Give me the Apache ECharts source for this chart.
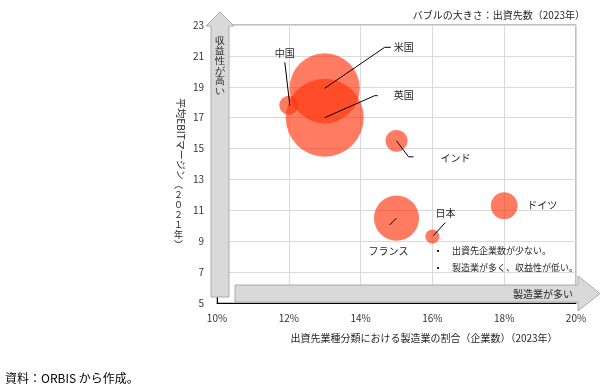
<!DOCTYPE html>
<html><head><meta charset="utf-8">
<script src="https://cdn.jsdelivr.net/npm/echarts@6/dist/echarts.min.js"></script>
<style>html,body{margin:0;padding:0;background:#fff}#c{width:608px;height:392px}</style>
</head><body><div id="c"></div>
<script>
const countries = ['中国', '米国', '英国', 'インド', 'フランス', '日本', 'ドイツ'];
const manufShare = [12.0, 13.0, 13.0, 15.0, 15.0, 16.0, 18.0];   // % (x)
const ebitMargin = [17.8, 18.9, 17.0, 15.5, 10.5, 9.3, 11.3];     // % (y)
const investCount = [90, 1230, 1520, 120, 510, 50, 180];          // bubble size
const xTicks = [10, 12, 14, 16, 18, 20];
const yTicks = [5, 7, 9, 11, 13, 15, 17, 19, 21, 23];

const FONT = '"Noto Sans CJK JP", "Noto Sans", sans-serif';
// pixel offsets of leader lines / labels relative to the bubble centre
const annot = {
  '中国':   {line: [[1, 0], [-4, -43]], text: [-4, -52], align: 'center'},
  '米国':   {line: [[0, 0], [60, -41], [66, -41]], text: [69, -41], align: 'left'},
  '英国':   {line: [[0, 0], [50, -22], [53, -22]], text: [69, -22], align: 'left'},
  'インド': {line: [[0, 0], [12, 16], [17, 16]], text: [44, 17], align: 'left'},
  'フランス': {line: [[-7, 7], [0, 0]], text: [-8, 33], align: 'center'},
  '日本':   {line: [[1, -1], [13, -14]], text: [13, -23], align: 'center'},
  'ドイツ': {line: null, text: [23, 0], align: 'left'}
};

const pts = countries.map((c, i) => [manufShare[i], ebitMargin[i], investCount[i], c]);

const chart = echarts.init(document.getElementById('c'), null, {renderer: 'canvas'});
const arrowFill = '#D9D9D9', arrowStroke = '#ABABAB';
chart.setOption({
  animation: false,
  textStyle: {fontFamily: FONT},
  grid: {left: 217, right: 32, top: 25, bottom: 89, show: true, borderColor: '#7F7F7F', borderWidth: 1},
  xAxis: {
    type: 'value', min: xTicks[0], max: xTicks[xTicks.length - 1], interval: 2,
    axisLine: {show: true, lineStyle: {color: '#000', width: 1}},
    axisTick: {show: false},
    axisLabel: {formatter: '{value}%', fontSize: 10, color: '#333', margin: 10, fontFamily: FONT},
    splitLine: {show: true, lineStyle: {color: '#D9D9D9'}},
    name: '出資先業種分類における製造業の割合（企業数）（2023年）',
    nameLocation: 'middle', nameGap: 30,
    nameTextStyle: {fontSize: 10, color: '#262626', fontFamily: FONT, padding: [0, 0, 0, 55]}
  },
  yAxis: {
    type: 'value', min: yTicks[0], max: yTicks[yTicks.length - 1], interval: 2,
    axisLine: {show: true, lineStyle: {color: '#000', width: 1}},
    axisTick: {show: false},
    axisLabel: {fontSize: 10, color: '#333', margin: 13, fontFamily: FONT},
    splitLine: {show: true, lineStyle: {color: '#D9D9D9'}}
  },
  graphic: [
    {type: 'polygon', z: 10, shape: {points: [[211, 297], [211, 26], [206, 26], [220, 12], [234, 26], [229, 26], [229, 297]]},
      style: {fill: arrowFill, stroke: arrowStroke, lineWidth: 1}},
    {type: 'text', z: 11, left: 215, top: 36,
      style: {text: '収\n益\n性\nが\n高\nい', fontSize: 10, lineHeight: 10, fill: '#262626', font: '10px ' + FONT}},
    {type: 'polygon', z: 10, shape: {points: [[235, 285], [578, 285], [578, 276], [600, 293.5], [578, 311], [578, 302], [235, 302]]},
      style: {fill: arrowFill, stroke: arrowStroke, lineWidth: 1}},
    {type: 'text', z: 11, x: 573, y: 294,
      style: {text: '製造業が多い', align: 'right', verticalAlign: 'middle', fill: '#262626', font: '10px ' + FONT}},
    {type: 'text', z: 11, x: 181, y: 139, rotation: -Math.PI / 2,
      style: {text: '平均EBITマージン', align: 'center', verticalAlign: 'middle', fill: '#262626', font: '10px ' + FONT}},
    {type: 'text', z: 11, x: 178.5, y: 180,
      style: {text: '︵\n２\n０\n２\n１\n年\n︶', align: 'center', verticalAlign: 'top', lineHeight: 10, fill: '#262626', font: '9px ' + FONT}},
    {type: 'text', z: 11, x: 585, y: 15,
      style: {text: 'バブルの大きさ：出資先数（2023年）', align: 'right', verticalAlign: 'middle', fill: '#262626', font: '10px ' + FONT}},
    {type: 'rect', z: 11, shape: {x: 437, y: 250, width: 2, height: 2}, style: {fill: '#262626'}},
    {type: 'rect', z: 11, shape: {x: 437, y: 267, width: 2, height: 2}, style: {fill: '#262626'}},
    {type: 'text', z: 11, x: 452, y: 251,
      style: {text: '出資先企業数が少ない。', align: 'left', verticalAlign: 'middle', fill: '#262626', font: '9px ' + FONT}},
    {type: 'text', z: 11, x: 452, y: 268,
      style: {text: '製造業が多く、収益性が低い。', align: 'left', verticalAlign: 'middle', fill: '#262626', font: '9px ' + FONT}},
    {type: 'text', z: 11, x: 5, y: 378,
      style: {text: '資料：ORBIS から作成。', align: 'left', verticalAlign: 'middle', fill: '#000', font: '12px ' + FONT}}
  ],
  series: [
    {
      type: 'scatter',
      data: pts,
      symbolSize: d => 2 * Math.sqrt(d[2]),
      itemStyle: {color: 'rgba(255,50,10,0.8)'},
      z: 3
    },
    {
      type: 'custom',
      data: pts,
      z: 5,
      renderItem: function (params, api) {
        const name = countries[params.dataIndex];
        const a = annot[name];
        const c = api.coord([api.value(0), api.value(1)]);
        const children = [];
        if (a.line) {
          children.push({type: 'polyline',
            shape: {points: a.line.map(p => [c[0] + p[0], c[1] + p[1]])},
            style: {stroke: '#000', lineWidth: 1, fill: null}});
        }
        children.push({type: 'text', x: c[0] + a.text[0], y: c[1] + a.text[1],
          style: {text: name, align: a.align, verticalAlign: 'middle', fill: '#262626', font: '10px ' + FONT}});
        return {type: 'group', children: children};
      }
    }
  ]
});
</script></body></html>
